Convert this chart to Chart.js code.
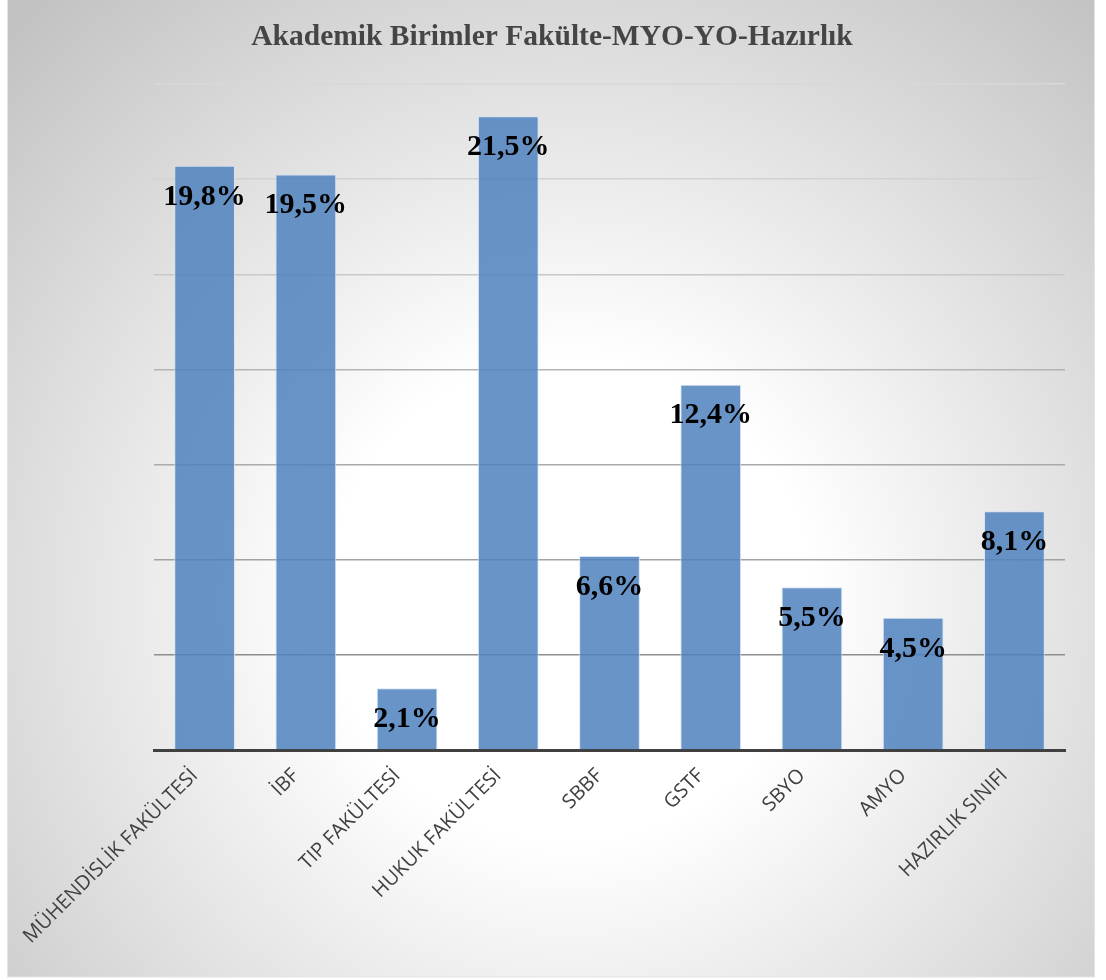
<!DOCTYPE html>
<html>
<head>
<meta charset="utf-8">
<script src="https://cdn.jsdelivr.net/npm/chart.js@4/dist/chart.umd.min.js"></script>
<style>
  html, body { margin: 0; padding: 0; background: #ffffff; }
  #wrap { width: 1106px; height: 980px; position: relative; }
</style>
</head>
<body>
<div id="wrap"><canvas id="chart" width="1106" height="980"></canvas></div>
<script>
const title = 'Akademik Birimler Fakülte-MYO-YO-Hazırlık'
const categories = ['MÜHENDİSLİK FAKÜLTESİ', 'İBF', 'TIP FAKÜLTESİ', 'HUKUK FAKÜLTESİ', 'SBBF', 'GSTF', 'SBYO', 'AMYO', 'HAZIRLIK SINIFI']
// student counts (grid step = 100)
const counts = [614, 605, 65, 666, 204, 384, 171, 139, 251]
// percentage labels as printed on the bars
const percentLabels = ['19,8%', '19,5%', '2,1%', '21,5%', '6,6%', '12,4%', '5,5%', '4,5%', '8,1%']
const gridColors = ['#404040', '#8e8e8e', '#a2a2a2', '#aaaaaa', '#b4b4b4', '#c8c8c8', '#d2d2d2', '#d8d8d8']

const backgroundPlugin = {
    id: 'panelBackground',
    beforeDraw(chart) {
        const ctx = chart.ctx
        ctx.save()
        const g = ctx.createRadialGradient(570, 600, 0, 570, 600, 800)
        g.addColorStop(0, '#ffffff')
        g.addColorStop(0.3, '#ffffff')
        g.addColorStop(1, '#c2c2c2')
        ctx.fillStyle = g
        ctx.fillRect(7, 0, 1088, 977)
        ctx.strokeStyle = '#e4e4e4'
        ctx.lineWidth = 1
        ctx.strokeRect(7.5, -1, 1087, 978)
        // chart title, centred on the whole panel
        ctx.font = 'bold 29.5px "Liberation Serif", "Times New Roman", serif'
        ctx.fillStyle = '#454545'
        ctx.textAlign = 'center'
        ctx.textBaseline = 'middle'
        ctx.fillText(title, 552, 37)
        ctx.restore()
    }
}

const barLabelPlugin = {
    id: 'barLabels',
    afterDatasetsDraw(chart) {
        const ctx = chart.ctx
        const meta = chart.getDatasetMeta(0)
        ctx.save()
        ctx.font = 'bold 30px "Liberation Serif", "Times New Roman", serif'
        ctx.fillStyle = '#000000'
        ctx.textAlign = 'center'
        ctx.textBaseline = 'middle'
        meta.data.forEach((bar, i) => {
            ctx.fillText(percentLabels[i], bar.x, bar.y + 31)
        })
        ctx.restore()
    }
}

new Chart(document.getElementById('chart'), {
    type: 'bar',
    data: {
        labels: categories,
        datasets: [{
            data: counts,
            backgroundColor: 'rgba(79, 129, 189, 0.85)',
            borderColor: 'rgba(210, 225, 245, 0.9)',
            borderWidth: 1,
            barPercentage: 0.6,
            categoryPercentage: 1
        }]
    },
    options: {
        responsive: false,
        animation: false,
        layout: { padding: { left: 154, right: 41, top: 84, bottom: 0 } },
        plugins: {
            legend: { display: false },
            tooltip: { enabled: false },
            title: { display: false }
        },
        scales: {
            x: {
                grid: { display: false },
                border: { color: '#404040', width: 3 },
                ticks: {
                    color: '#404040',
                    font: { family: '"Open Sans", sans-serif', size: 20 },
                    minRotation: 45,
                    maxRotation: 45,
                    padding: 6,
                    labelOffset: -10
                },
                afterFit(scale) { scale.height = 230 }
            },
            y: {
                min: 0,
                max: 700,
                ticks: { display: false, stepSize: 100 },
                border: { display: false },
                grid: {
                    drawTicks: false,
                    lineWidth: 1.5,
                    color: (c) => gridColors[c.index] || '#d0d0d0'
                },
                afterFit(scale) { scale.width = 0 }
            }
        }
    },
    plugins: [backgroundPlugin, barLabelPlugin]
})
</script>
</body>
</html>
